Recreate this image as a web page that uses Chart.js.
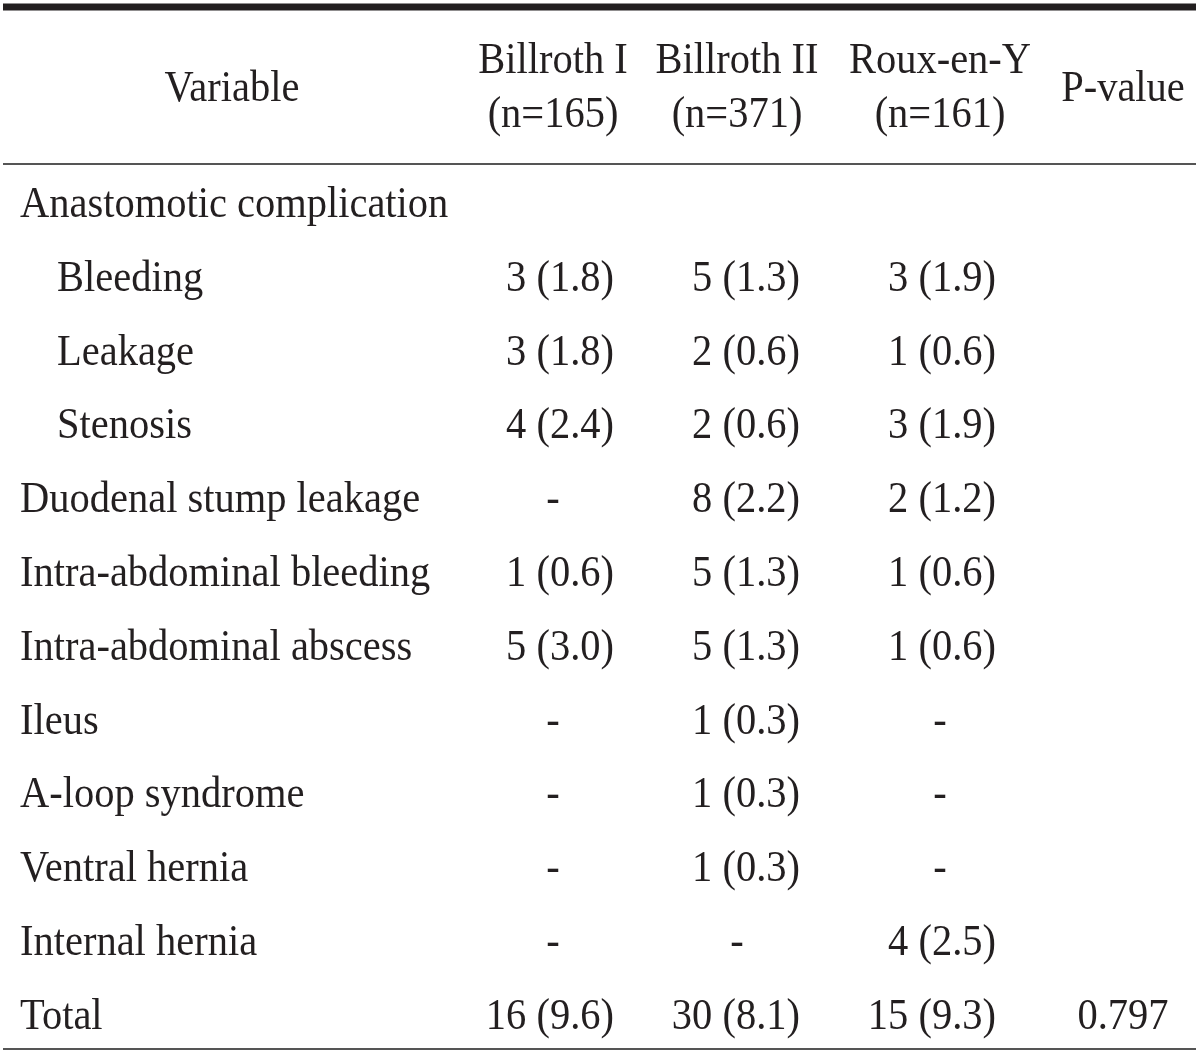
<!DOCTYPE html>
<html><head><meta charset="utf-8">
<script src="https://cdn.jsdelivr.net/npm/chart.js@4.4.1/dist/chart.umd.min.js"></script>
<style>html,body{margin:0;padding:0;background:#fff;overflow:hidden}canvas{display:block}</style>
</head><body>
<canvas id="c" width="1200" height="1055"></canvas>
<script>
// ---- data ----
const rowLabels = ["Anastomotic complication","Bleeding","Leakage","Stenosis","Duodenal stump leakage","Intra-abdominal bleeding","Intra-abdominal abscess","Ileus","A-loop syndrome","Ventral hernia","Internal hernia","Total"];
const rowIndent = [0,1,1,1,0,0,0,0,0,0,0,0];
const rowIsGroup = [true,false,false,false,false,false,false,false,false,false,false,false];
const groupNames = ["Billroth I","Billroth II","Roux-en-Y"];
const groupN = [165,371,161];
const b1Count = [null,3,3,4,null,1,5,null,null,null,null,16];
const b1Pct   = [null,1.8,1.8,2.4,null,0.6,3.0,null,null,null,null,9.6];
const b2Count = [null,5,2,2,8,5,5,1,1,1,null,30];
const b2Pct   = [null,1.3,0.6,0.6,2.2,1.3,1.3,0.3,0.3,0.3,null,8.1];
const ryCount = [null,3,1,3,2,1,1,null,null,null,4,15];
const ryPct   = [null,1.9,0.6,1.9,1.2,0.6,0.6,null,null,null,2.5,9.3];
const pValues = [null,null,null,null,null,null,null,null,null,null,null,"0.797"];
const headerVariable = "Variable";
const headerP = "P-value";

// ---- layout (scale units) ----
const colCenter = [553, 737, 940];
const colRight  = [614, 800, 996];
const varCenter = 232, pCenter = 1123, labelLeft = 20, indentW = 37;
const lineLeft = 3, lineRight = 1196;
const yHead1 = -1.951, yHead2 = -1.22, yHeadMid = -1.572;
const yTopLine = -2.846, yMidLine = -0.718, yBotLine = 11.274;
const FONT = '44px "Liberation Serif", "Times New Roman", serif';
const SX = 0.92;
const INK = '#231f20';

const counts = [b1Count, b2Count, ryCount];
const pcts = [b1Pct, b2Pct, ryPct];
function cellText(g, i) {
  if (rowIsGroup[i]) return null;
  const c = counts[g][i];
  if (c === null) return '-';
  return c + ' (' + pcts[g][i].toFixed(1) + ')';
}

const datasets = groupNames.map((name, g) => ({
  label: name,
  data: rowLabels.map((_, i) => ({x: colRight[g], y: i})),
  pointRadius: 0, showLine: false
}));
datasets.push({label: 'labels', data: rowLabels.map((_, i) => ({x: labelLeft + indentW * rowIndent[i], y: i})), pointRadius: 0, showLine: false});
datasets.push({label: 'p', data: rowLabels.map((_, i) => ({x: pCenter, y: i})), pointRadius: 0, showLine: false});

function txt(ctx, t, x, y, align) {
  ctx.save();
  ctx.translate(x, y);
  ctx.scale(SX, 1);
  ctx.textAlign = align;
  ctx.fillText(t, 0, 0);
  ctx.restore();
}

const tablePlugin = {
  id: 'table',
  afterDatasetsDraw(chart) {
    const ctx = chart.ctx, xs = chart.scales.x, ys = chart.scales.y;
    ctx.save();
    ctx.font = FONT;
    ctx.fillStyle = INK;
    ctx.textBaseline = 'alphabetic';
    // rules
    const hl = (yv, w, col) => {
      const y = ys.getPixelForValue(yv);
      ctx.beginPath();
      ctx.lineWidth = w; ctx.strokeStyle = col;
      ctx.moveTo(xs.getPixelForValue(lineLeft), y);
      ctx.lineTo(xs.getPixelForValue(lineRight), y);
      ctx.stroke();
    };
    hl(yTopLine, 7, INK);
    hl(yMidLine, 2, '#555');
    hl(yBotLine, 2, '#555');
    // header
    txt(ctx, headerVariable, xs.getPixelForValue(varCenter), ys.getPixelForValue(yHeadMid), 'center');
    txt(ctx, headerP, xs.getPixelForValue(pCenter), ys.getPixelForValue(yHeadMid), 'center');
    groupNames.forEach((n, g) => {
      txt(ctx, n, xs.getPixelForValue(colCenter[g]), ys.getPixelForValue(yHead1), 'center');
      txt(ctx, '(n=' + groupN[g] + ')', xs.getPixelForValue(colCenter[g]), ys.getPixelForValue(yHead2), 'center');
    });
    // row labels
    chart.getDatasetMeta(3).data.forEach((pt, i) => txt(ctx, rowLabels[i], pt.x, pt.y, 'left'));
    // cells
    for (let g = 0; g < 3; g++) {
      chart.getDatasetMeta(g).data.forEach((pt, i) => {
        const t = cellText(g, i);
        if (t === null) return;
        if (t === '-') txt(ctx, t, xs.getPixelForValue(colCenter[g]), pt.y, 'center');
        else txt(ctx, t, pt.x, pt.y, 'right');
      });
    }
    chart.getDatasetMeta(4).data.forEach((pt, i) => { if (pValues[i]) txt(ctx, pValues[i], pt.x, pt.y, 'center'); });
    ctx.restore();
  }
};

new Chart(document.getElementById('c'), {
  type: 'scatter',
  data: {datasets},
  options: {
    responsive: false, animation: false, devicePixelRatio: 1,
    layout: {padding: 0},
    plugins: {legend: {display: false}, tooltip: {enabled: false}},
    scales: {
      x: {type: 'linear', min: 0, max: 1200, display: false},
      y: {type: 'linear', reverse: true, min: -2.940, max: 11.355, display: false}
    }
  },
  plugins: [tablePlugin]
});
</script>
</body></html>
